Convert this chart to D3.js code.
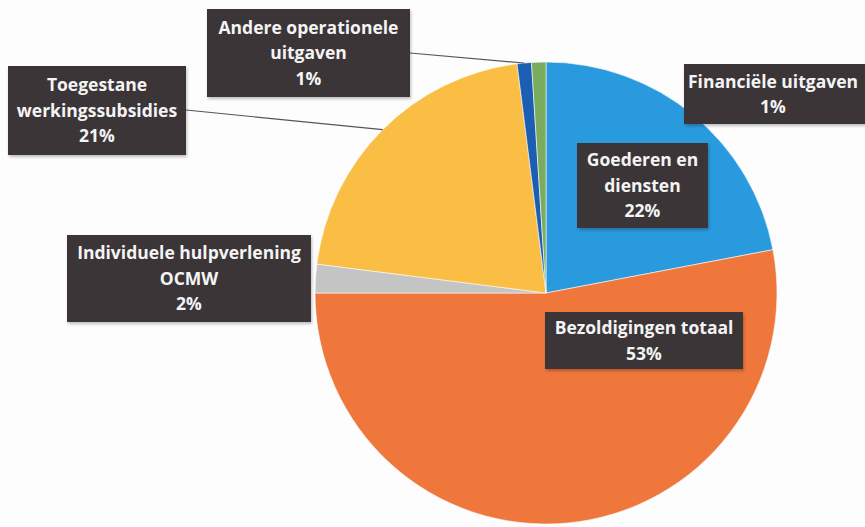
<!DOCTYPE html>
<html>
<head>
<meta charset="utf-8">
<script src="https://cdn.jsdelivr.net/npm/d3@7"></script>
<style>
  html, body { margin: 0; padding: 0; background: #fdfdfd; }
  #chart { width: 865px; height: 527px; overflow: hidden; }
  .lbl text { font-family: "Open Sans", sans-serif; font-weight: 700; fill: #f4f4f4; }
</style>
</head>
<body>
<div id="chart"></div>
<script>
// Data (clockwise from 12 o'clock)
const categories = [
  "Goederen en diensten",
  "Bezoldigingen totaal",
  "Individuele hulpverlening OCMW",
  "Toegestane werkingssubsidies",
  "Andere operationele uitgaven",
  "Financiële uitgaven"
];
const values = [22, 53, 2, 21, 1, 1];
const percentLabels = ["22%", "53%", "2%", "21%", "1%", "1%"];
const colors = ["#2a9ade", "#ef773c", "#c4c4c4", "#fbbe44", "#1c5fb2", "#7aab5e"];

// Label boxes: how each label is broken into lines
const labelLines = [
  ["Goederen en", "diensten"],
  ["Bezoldigingen totaal"],
  ["Individuele hulpverlening", "OCMW"],
  ["Toegestane", "werkingssubsidies"],
  ["Andere operationele", "uitgaven"],
  ["Financiële uitgaven"]
];

// Layout
const WIDTH = 865, HEIGHT = 527;
const cx = 546, cy = 293, R = 231;
// box: left, top, width, height; leader: true if a line is drawn to the slice
const boxes = [
  { x: 577, y: 143, w: 131, h: 85, leader: false },
  { x: 545, y: 312, w: 198, h: 57, leader: false },
  { x: 67, y: 235, w: 244, h: 87, leader: false },
  { x: 8, y: 66, w: 178, h: 89, leader: true, ly: 110 },
  { x: 207, y: 9, w: 203, h: 88, leader: true, ly: 53 },
  { x: 684, y: 64, w: 190, h: 60, leader: false }
];

const svg = d3.select("#chart").append("svg")
  .attr("width", WIDTH).attr("height", HEIGHT);

const defs = svg.append("defs");
const f = defs.append("filter").attr("id", "shadow")
  .attr("x", "-10%").attr("y", "-10%").attr("width", "120%").attr("height", "130%");
f.append("feDropShadow").attr("dx", 1).attr("dy", 2).attr("stdDeviation", 1.5)
  .attr("flood-color", "#000").attr("flood-opacity", 0.25);

const pie = d3.pie().sort(null).value(d => d)(values);
const arc = d3.arc().innerRadius(0).outerRadius(R);

const g = svg.append("g").attr("transform", `translate(${cx},${cy})`);
g.selectAll("path.slice")
  .data(pie)
  .enter().append("path")
  .attr("class", "slice")
  .attr("d", arc)
  .attr("fill", (d, i) => colors[i])
  .attr("stroke", "#fbfbfb")
  .attr("stroke-width", 0.6);

// Leader lines
const edgeArc = d3.arc().innerRadius(R).outerRadius(R);
pie.forEach((d, i) => {
  const b = boxes[i];
  if (!b.leader) return;
  const p = edgeArc.centroid(d);
  svg.append("line")
    .attr("x1", b.x + b.w).attr("y1", b.ly)
    .attr("x2", cx + p[0]).attr("y2", cy + p[1])
    .attr("stroke", "#555").attr("stroke-width", 1.2);
});

// Label boxes
const lineH = 25.5;
const lbl = svg.selectAll("g.lbl")
  .data(pie)
  .enter().append("g")
  .attr("class", "lbl");

lbl.append("rect")
  .attr("x", (d, i) => boxes[i].x)
  .attr("y", (d, i) => boxes[i].y)
  .attr("width", (d, i) => boxes[i].w)
  .attr("height", (d, i) => boxes[i].h)
  .attr("fill", "#3b3537")
  .attr("filter", "url(#shadow)");

lbl.each(function (d, i) {
  const b = boxes[i];
  const lines = labelLines[i].concat([percentLabels[i]]);
  const top = b.y + b.h / 2 - (lines.length - 1) * lineH / 2;
  const t = d3.select(this).append("text")
    .attr("text-anchor", "middle")
    .style("font-size", "17.5px");
  lines.forEach((s, k) => {
    t.append("tspan")
      .attr("x", b.x + b.w / 2 - (i === 5 ? 6 : 0))
      .attr("y", top + k * lineH)
      .attr("dy", "0.36em")
      .text(s);
  });
});
</script>
</body>
</html>
